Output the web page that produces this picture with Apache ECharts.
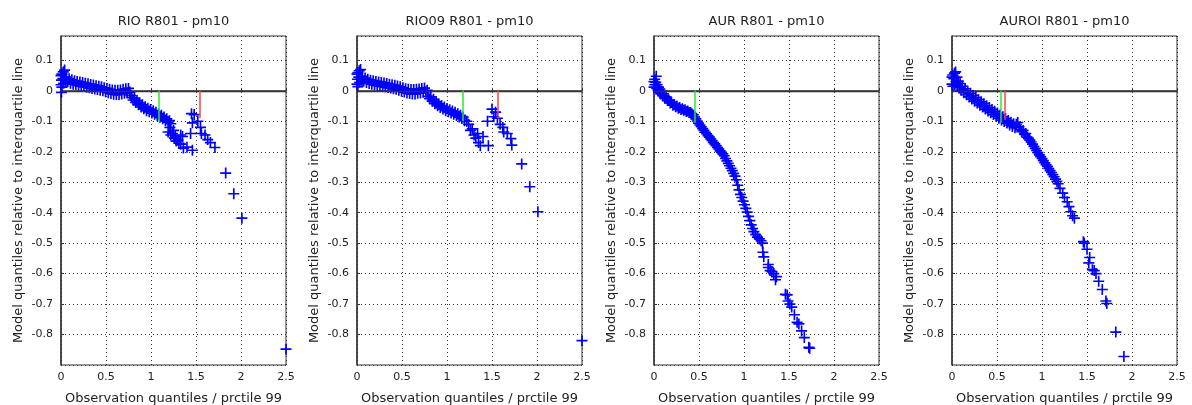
<!DOCTYPE html>
<html>
<head>
<meta charset="utf-8">
<script src="https://cdn.jsdelivr.net/npm/echarts@6/dist/echarts.min.js"></script>
<style>
  html, body { margin: 0; padding: 0; background: #fff; }
  #chart { width: 1192px; height: 405px; }
</style>
</head>
<body>
<div id="chart"></div>
<script>
// titles of the four panels
var panelTitles = ["RIO R801 - pm10", "RIO09 R801 - pm10", "AUR R801 - pm10", "AUROI R801 - pm10"];

// [observation quantile, model quantile] per panel
var rioPoints = [
  [0.000,0.050],[0.000,0.020],[0.005,0.035],[0.005,-0.005],[0.010,0.055],[0.010,0.012],[0.020,0.040],[0.025,0.062],[0.030,0.025],[0.040,0.068],
  [0.045,0.038],[0.055,0.028],[0.060,0.045],[0.075,0.030],[0.090,0.040],[0.105,0.025],[0.120,0.036],[0.135,0.022],[0.150,0.033],[0.165,0.020],
  [0.180,0.031],[0.195,0.018],[0.210,0.029],[0.225,0.016],[0.240,0.027],[0.255,0.014],[0.270,0.025],[0.285,0.012],[0.300,0.023],[0.315,0.010],
  [0.330,0.021],[0.345,0.008],[0.360,0.019],[0.375,0.006],[0.390,0.017],[0.405,0.004],[0.420,0.015],[0.435,0.002],[0.450,0.013],[0.465,0.000],
  [0.480,0.010],[0.495,-0.003],[0.510,0.008],[0.525,-0.006],[0.540,0.005],[0.555,-0.009],[0.570,0.003],[0.585,-0.011],[0.600,0.002],[0.615,-0.012],
  [0.630,0.002],[0.645,-0.012],[0.660,0.003],[0.675,-0.010],[0.690,0.005],[0.705,-0.008],[0.720,0.007],[0.735,-0.006],[0.750,0.008],[0.765,-0.004],
  [0.775,-0.015],[0.785,-0.022],[0.800,-0.030],[0.815,-0.024],[0.830,-0.038],[0.845,-0.032],[0.860,-0.046],[0.875,-0.040],[0.890,-0.053],[0.905,-0.046],
  [0.920,-0.059],[0.935,-0.052],[0.950,-0.065],[0.965,-0.057],[0.980,-0.069],[0.995,-0.061],[1.010,-0.073],[1.025,-0.065],[1.040,-0.077],[1.055,-0.070],
  [1.070,-0.082],[1.085,-0.075],[1.100,-0.087],[1.115,-0.080],[1.130,-0.092],[1.145,-0.086],[1.160,-0.097],[1.175,-0.092],[1.190,-0.103],[1.205,-0.098],
  [1.220,-0.108],
  [1.19,-0.135],[1.21,-0.12],[1.22,-0.145],[1.24,-0.14],[1.25,-0.13],[1.26,-0.155],[1.27,-0.15],[1.28,-0.165],[1.30,-0.162],[1.31,-0.172],
  [1.33,-0.175],[1.33,-0.145],[1.35,-0.15],[1.36,-0.188],[1.40,-0.185],[1.44,-0.14],[1.46,-0.195],[1.45,-0.075],[1.46,-0.105],[1.48,-0.078],
  [1.52,-0.10],[1.55,-0.12],[1.56,-0.14],[1.60,-0.145],[1.63,-0.16],[1.66,-0.17],[1.71,-0.186],[1.83,-0.27],[1.92,-0.338],[2.01,-0.418],
  [2.50,-0.848]
];
var rio09Points = [
  [0.000,0.055],[0.000,0.022],[0.005,0.038],[0.010,0.060],[0.010,0.014],[0.020,0.045],[0.025,0.066],[0.030,0.028],[0.040,0.070],[0.045,0.040],
  [0.055,0.030],[0.060,0.048],[0.075,0.032],[0.090,0.042],[0.105,0.027],[0.120,0.038],[0.135,0.024],[0.150,0.035],[0.165,0.022],[0.180,0.033],
  [0.195,0.020],[0.210,0.031],[0.225,0.018],[0.240,0.029],[0.255,0.016],[0.270,0.027],[0.285,0.015],[0.300,0.026],[0.315,0.013],[0.330,0.024],
  [0.345,0.011],[0.360,0.022],[0.375,0.009],[0.390,0.020],[0.405,0.007],[0.420,0.018],[0.435,0.005],[0.450,0.016],[0.465,0.002],[0.480,0.013],
  [0.495,-0.001],[0.510,0.010],[0.525,-0.004],[0.540,0.007],[0.555,-0.007],[0.570,0.005],[0.585,-0.009],[0.600,0.004],[0.615,-0.010],[0.630,0.004],
  [0.645,-0.010],[0.660,0.005],[0.675,-0.008],[0.690,0.006],[0.705,-0.007],[0.720,0.008],[0.735,-0.005],[0.750,0.009],[0.765,-0.003],[0.780,0.002],
  [0.790,-0.018],[0.805,-0.026],[0.820,-0.020],[0.835,-0.034],[0.850,-0.028],[0.865,-0.042],[0.880,-0.036],[0.895,-0.049],[0.910,-0.043],[0.925,-0.055],
  [0.940,-0.048],[0.955,-0.060],[0.970,-0.053],[0.985,-0.065],[1.000,-0.058],[1.015,-0.069],[1.030,-0.062],[1.045,-0.073],[1.060,-0.066],[1.075,-0.077],
  [1.090,-0.070],[1.105,-0.081],[1.120,-0.075],[1.135,-0.086],[1.150,-0.080],[1.165,-0.091],[1.180,-0.086],[1.195,-0.098],
  [1.22,-0.10],[1.24,-0.11],[1.26,-0.13],[1.28,-0.125],[1.30,-0.145],[1.32,-0.155],[1.34,-0.14],[1.35,-0.17],[1.37,-0.18],[1.40,-0.15],
  [1.46,-0.18],[1.45,-0.10],[1.50,-0.06],[1.54,-0.07],[1.52,-0.085],[1.56,-0.09],[1.59,-0.11],[1.62,-0.12],[1.63,-0.135],[1.67,-0.14],
  [1.71,-0.157],[1.72,-0.178],[1.83,-0.24],[1.92,-0.315],[2.01,-0.397],[2.50,-0.82]
];
var aurPoints = [
  [0.000,0.030],[0.000,0.012],[0.008,0.038],[0.010,0.020],[0.020,0.028],[0.025,0.048],[0.030,0.008],[0.035,0.020],[0.045,0.002],[0.050,0.012],
  [0.060,-0.004],[0.065,0.006],[0.075,-0.010],[0.085,-0.002],[0.095,-0.016],[0.105,-0.010],[0.120,-0.024],[0.135,-0.020],[0.150,-0.032],[0.165,-0.030],
  [0.180,-0.040],[0.195,-0.038],[0.210,-0.047],[0.225,-0.045],[0.240,-0.052],[0.255,-0.050],[0.270,-0.057],[0.285,-0.055],[0.300,-0.061],[0.315,-0.059],
  [0.330,-0.064],[0.345,-0.062],[0.360,-0.068],[0.375,-0.066],[0.390,-0.071],[0.405,-0.071],[0.420,-0.075],[0.435,-0.079],[0.450,-0.086],[0.465,-0.092],
  [0.480,-0.099],[0.495,-0.106],[0.510,-0.112],[0.525,-0.118],[0.540,-0.124],[0.555,-0.130],[0.570,-0.136],[0.585,-0.141],[0.600,-0.147],[0.615,-0.152],
  [0.630,-0.158],[0.645,-0.163],[0.660,-0.169],[0.675,-0.174],[0.690,-0.180],[0.705,-0.186],[0.720,-0.191],[0.735,-0.197],[0.750,-0.202],[0.765,-0.207],
  [0.780,-0.213],[0.795,-0.222],[0.810,-0.230],[0.825,-0.238],[0.840,-0.246],[0.855,-0.254],[0.870,-0.262],[0.885,-0.271],[0.900,-0.280],[0.915,-0.292],
  [0.930,-0.310],[0.945,-0.325],[0.960,-0.340],[0.975,-0.350],[0.990,-0.362],[1.005,-0.374],[1.020,-0.386],[1.035,-0.398],[1.050,-0.412],[1.065,-0.426],
  [1.080,-0.440],[1.095,-0.452],[1.110,-0.462],[1.130,-0.472],[1.150,-0.480],[1.170,-0.486],[1.190,-0.492],[1.205,-0.500],
  [1.21,-0.53],[1.22,-0.545],[1.27,-0.57],[1.27,-0.58],[1.29,-0.59],[1.31,-0.593],[1.33,-0.60],[1.36,-0.61],[1.35,-0.62],[1.46,-0.668],
  [1.48,-0.67],[1.49,-0.69],[1.51,-0.70],[1.53,-0.71],[1.56,-0.735],[1.59,-0.76],[1.61,-0.765],[1.64,-0.788],[1.67,-0.81],[1.72,-0.842],
  [1.73,-0.845]
];
var auroiPoints = [
  [0.000,0.045],[0.000,0.022],[0.008,0.052],[0.010,0.015],[0.020,0.040],[0.028,0.058],[0.030,0.020],[0.040,0.062],[0.045,0.030],[0.055,0.045],
  [0.060,0.018],[0.070,0.032],[0.080,0.010],[0.090,0.024],[0.100,0.002],[0.115,0.015],[0.130,-0.006],[0.145,0.007],[0.160,-0.013],[0.175,-0.001],
  [0.190,-0.020],[0.205,-0.008],[0.220,-0.027],[0.235,-0.015],[0.250,-0.034],[0.265,-0.022],[0.280,-0.040],[0.295,-0.029],[0.310,-0.047],[0.325,-0.036],
  [0.340,-0.053],[0.355,-0.042],[0.370,-0.060],[0.385,-0.049],[0.400,-0.066],[0.415,-0.055],[0.430,-0.072],[0.445,-0.061],[0.460,-0.078],[0.475,-0.067],
  [0.490,-0.084],[0.505,-0.073],[0.520,-0.090],[0.535,-0.079],[0.550,-0.096],[0.565,-0.085],[0.580,-0.101],[0.595,-0.091],[0.610,-0.106],[0.625,-0.097],
  [0.640,-0.112],[0.655,-0.103],[0.670,-0.117],[0.685,-0.108],[0.700,-0.121],[0.715,-0.110],[0.730,-0.104],[0.745,-0.118],[0.760,-0.128],[0.775,-0.134],
  [0.790,-0.130],[0.805,-0.142],[0.820,-0.140],[0.835,-0.152],[0.850,-0.156],[0.865,-0.162],[0.880,-0.168],[0.895,-0.175],[0.910,-0.182],[0.925,-0.189],
  [0.940,-0.196],[0.955,-0.203],[0.970,-0.210],[0.985,-0.216],[1.000,-0.222],[1.015,-0.229],[1.030,-0.236],[1.045,-0.242],[1.060,-0.248],[1.075,-0.255],
  [1.090,-0.262],[1.105,-0.268],[1.120,-0.275],[1.135,-0.282],[1.150,-0.290],[1.165,-0.297],[1.180,-0.305],
  [1.20,-0.32],[1.23,-0.336],[1.25,-0.35],[1.28,-0.364],[1.30,-0.38],[1.32,-0.397],[1.34,-0.41],[1.36,-0.418],[1.46,-0.495],[1.47,-0.50],
  [1.50,-0.52],[1.53,-0.547],[1.52,-0.565],[1.56,-0.587],[1.58,-0.59],[1.60,-0.60],[1.63,-0.625],[1.67,-0.652],[1.71,-0.69],[1.72,-0.698],
  [1.82,-0.792],[1.91,-0.872]
];
var panelPoints = [rioPoints, rio09Points, aurPoints, auroiPoints];

// vertical marker lines: x position and lower end
var greenX = [1.09, 1.18, 0.45, 0.545];
var greenEnd = [-0.102, -0.10, -0.105, -0.105];
var redX = [1.54, 1.56, null, 0.585];
var redEnd = [-0.09, -0.09, null, -0.095];

var xMin = 0, xMax = 2.5, xStep = 0.5;
var yMin = -0.9, yMax = 0.18, yStep = 0.1;

var myChart = echarts.init(document.getElementById("chart"));

var gridLeft = [61, 357, 654, 952];
var gridW = 225, gridTop = 36, gridH = 329;
// plus-sign marker like matlab '+'
var plus = "path://M4.25,0h1.5v10h-1.5zM0,4.25h10v1.5h-10z";
var font = "DejaVu Sans";

var grids = [], xAxes = [], yAxes = [], series = [], titles = [];
for (var i = 0; i < 4; i++) {
  grids.push({
    left: gridLeft[i], top: gridTop, width: gridW, height: gridH,
    outerBoundsMode: "none",
    show: true, borderColor: "#333", borderWidth: 1, backgroundColor: "#fff"
  });
  titles.push({
    text: panelTitles[i],
    left: gridLeft[i] + gridW / 2, top: 15, textAlign: "center", padding: 0,
    textStyle: { fontFamily: font, fontSize: 13, fontWeight: "normal", color: "#222" }
  });
  xAxes.push({
    gridIndex: i, type: "value", min: xMin, max: xMax, interval: xStep,
    name: "Observation quantiles / prctile 99", nameLocation: "middle", nameGap: 27,
    nameTextStyle: { fontFamily: font, fontSize: 13, color: "#222" },
    axisLine: { lineStyle: { color: "#333", width: 1.5 } },
    axisTick: { inside: true, length: 3, lineStyle: { color: "#333" } },
    axisLabel: { fontFamily: font, fontSize: 11, color: "#222", margin: 7 },
    splitLine: { show: true, lineStyle: { color: "#333", type: [1, 3], width: 1 } }
  });
  yAxes.push({
    gridIndex: i, type: "value", min: yMin, max: yMax, interval: yStep,
    name: "Model quantiles relative to interquartile line", nameLocation: "middle", nameGap: 36,
    nameTextStyle: { fontFamily: font, fontSize: 13, color: "#222" },
    axisLine: { lineStyle: { color: "#333", width: 1.5 } },
    axisTick: { inside: true, length: 3, lineStyle: { color: "#333" } },
    axisLabel: {
      fontFamily: font, fontSize: 11, color: "#222", margin: 8,
      showMinLabel: false, showMaxLabel: false,
      formatter: function (v) { return String(Math.round(v * 10) / 10); }
    },
    splitLine: { show: true, lineStyle: { color: "#333", type: [1, 3], width: 1 } }
  });

  var lines = [
    [{ coord: [xMin, 0], lineStyle: { color: "#333", width: 1.4, type: "solid" } }, { coord: [xMax, 0] }],
    [{ coord: [greenX[i], 0], lineStyle: { color: "#2ee82e", width: 1.5, type: "solid" } }, { coord: [greenX[i], greenEnd[i]] }]
  ];
  if (redX[i] !== null) {
    lines.push([{ coord: [redX[i], 0], lineStyle: { color: "#ff4040", width: 1.5, type: "solid" } }, { coord: [redX[i], redEnd[i]] }]);
  }

  series.push({
    type: "scatter",
    xAxisIndex: i, yAxisIndex: i,
    data: panelPoints[i],
    symbol: plus, symbolSize: 11,
    itemStyle: { color: "#0000ff", opacity: 1 },
    silent: true,
    markLine: {
      silent: true, symbol: "none", animation: false,
      label: { show: false },
      data: lines
    }
  });
}

var option = {
  animation: false,
  title: titles,
  grid: grids,
  xAxis: xAxes,
  yAxis: yAxes,
  series: series
};
myChart.setOption(option);
</script>
</body>
</html>
